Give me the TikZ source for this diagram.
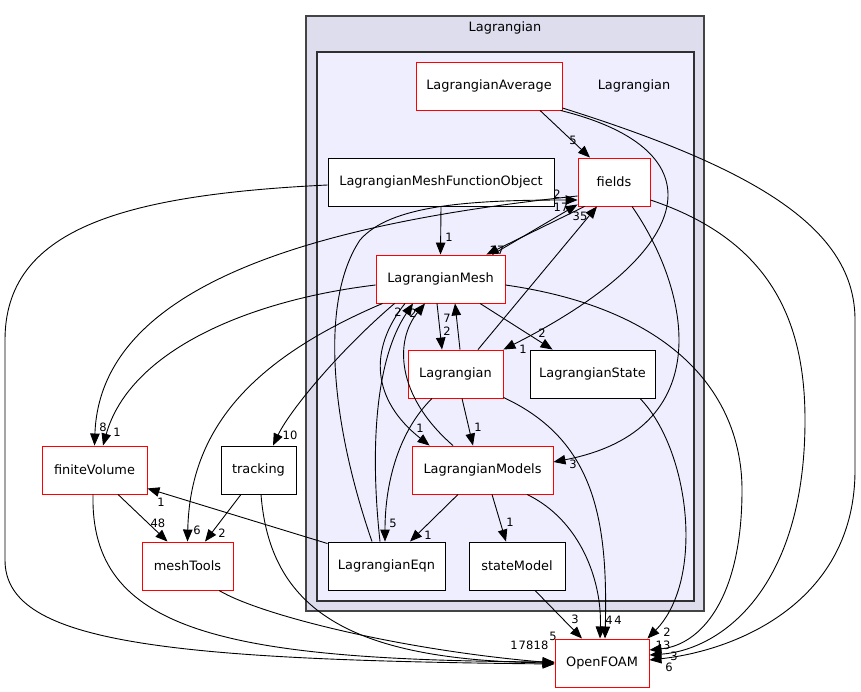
\documentclass[tikz,border=0pt]{standalone}
\usepackage{fontspec}
\setmainfont{DejaVu Sans}
\usetikzlibrary{arrows.meta,calc}
\definecolor{clusterout}{HTML}{DDDDEE}
\definecolor{clusterin}{HTML}{EEEEFF}
\definecolor{clusterline}{HTML}{444444}

\begin{document}
\begin{tikzpicture}[x=1pt,y=-1pt,
  font=\fontsize{12.9}{15}\selectfont,
  dirnode/.style={draw=red,fill=white,line width=0.9pt,minimum height=48pt,inner sep=0pt},
  dirplain/.style={dirnode,draw=black},
  dep/.style={draw=black,line width=0.9pt,-{Triangle[length=12pt,width=9.5pt]}},
  num/.style={font=\fontsize{11.5}{12}\selectfont,inner sep=0pt}]
  \useasboundingbox (0,0) rectangle (861,692);
  % clusters
  \filldraw[fill=clusterout,draw=clusterline,line width=1.6pt] (306,16) rectangle (704,611);
  \node at (505,28) {Lagrangian};
  \filldraw[fill=clusterin,draw=clusterline!70!black,line width=1.2pt] (317,52) rectangle (694,601);
  \node at (634,86) {Lagrangian};
  % directories
  \node[dirnode,minimum width=146pt] (avg) at (489,86) {LagrangianAverage};
  \node[dirnode,minimum width=72pt] (fields) at (614,182) {fields};
  \node[dirplain,minimum width=226pt] (mfo) at (441,182) {LagrangianMeshFunctionObject};
  \node[dirnode,minimum width=129pt] (mesh) at (440.5,279) {LagrangianMesh};
  \node[dirnode,minimum width=95pt] (lag) at (455.5,374) {Lagrangian};
  \node[dirplain,minimum width=125pt] (state) at (592.5,374) {LagrangianState};
  \node[dirnode,minimum width=141pt] (models) at (482.5,470) {LagrangianModels};
  \node[dirplain,minimum width=117pt] (eqn) at (386.5,566) {LagrangianEqn};
  \node[dirplain,minimum width=96pt] (statemodel) at (517,566) {stateModel};
  \node[dirplain,minimum width=75pt] (tracking) at (258.5,470) {tracking};
  \node[dirnode,minimum width=105pt] (fv) at (94.5,470) {finiteVolume};
  \node[dirnode,minimum width=91pt] (meshtools) at (187.5,566) {meshTools};
  \node[dirnode,minimum width=94pt] (openfoam) at (602,663) {OpenFOAM};
  % dependencies
  \draw[dep] ($(avg.south)+(51,0)$) -- ($(fields.north)+(-24,0)$) node[num] at (573,140) {5};
  \draw[dep] ($(avg.south east)+(-2,0)$) .. controls (720,150) and (700,250) .. (lag.north east) node[num] at (523,349) {1};
  \draw[dep] ($(avg.east)+(0,22)$) .. controls (760,170) and (855,230) .. (855,320) -- (855,470)
    .. controls (855,600) and (740,650) .. ($(openfoam.east)+(0,-3)$) node[num] at (669,667) {6};
  \draw[dep] ($(state.south)+(47.5,0)$) .. controls (690,450) and (705,580) .. ($(openfoam.north east)+(-2,0)$) node[num] at (667,632) {2};
  \draw[dep] ($(mesh.east)+(0,6)$) .. controls (680,310) and (742,400) .. (742,490)
    .. controls (742,600) and (700,645) .. ($(openfoam.east)+(0,-13)$) node[num] at (663,645) {13};
  \draw[dep] ($(fields.east)+(0,18)$) .. controls (770,240) and (805,320) .. (805,420)
    .. controls (805,590) and (720,650) .. ($(openfoam.east)+(0,-8)$) node[num] at (674,656) {3};
  \draw[dep] ($(fields.south)+(18,0)$) .. controls (690,290) and (720,430) .. ($(models.east)+(0,-8)$) node[num] at (573,464) {3};
  \draw[dep] ($(fields.west)+(0,14)$) .. controls (300,225) and (100,290) .. (fv.north) node[num] at (103,427) {8};
  \draw[dep] ($(mesh.west)+(0,6)$) .. controls (250,300) and (130,350) .. ($(fv.north)+(8.5,0)$) node[num] at (117,432) {1};
  \draw[dep] ($(eqn.north west)+(0,2)$) -- ($(fv.south east)+(0,-6)$) node[num] at (161,502) {1};
  \draw[dep] ($(fv.south)+(23.5,0)$) -- ($(meshtools.north)+(-20,0)$) node[num] at (158,523) {48};
  \draw[dep] ($(tracking.south)+(-17.5,0)$) -- ($(meshtools.north)+(17.5,0)$) node[num] at (222,533) {2};
  \draw[dep] ($(mesh.south west)+(7,0)$) .. controls (250,360) and (190,430) .. (meshtools.north) node[num] at (197,530) {6};
  \draw[dep] ($(mesh.south west)+(19,0)$) .. controls (340,350) and (290,410) .. ($(tracking.north)+(14.5,0)$) node[num] at (290,435) {10};
  \draw[dep] ($(tracking.south)+(2.5,0)$) .. controls (270,610) and (350,660) .. (openfoam.west) node[num] at (541,645) {18};
  \draw[dep] ($(fv.south)+(-1.5,0)$) .. controls (90,630) and (220,660) .. ($(openfoam.west)+(0,-1)$) node[num] at (526,645) {78};
  \draw[dep] ($(meshtools.south)+(31.5,0)$) .. controls (260,615) and (400,650) .. (openfoam.west) node[num] at (553,636) {5};
  \draw[dep] ($(mfo.west)+(0,3)$) .. controls (120,195) and (5,230) .. (5,340) -- (5,560)
    .. controls (5,640) and (150,660) .. ($(openfoam.west)+(0,1)$) node[num] at (514,645) {1};
  \draw[dep] (mfo.south) -- (mesh.north) node[num] at (449,237) {1};
  \draw[dep] ($(eqn.north)+(-14.5,0)$) .. controls (330,420) and (320,300) .. (360,240)
    .. controls (390,205) and (470,200) .. ($(fields.west)+(0,18)$) node[num] at (557,194) {2};
  \draw[dep] ($(mesh.north east)+(-13,0)$) -- ($(fields.south west)+(0,-2)$) node[num] at (561,207) {17};
  \draw[dep] ($(fields.south west)+(7,0)$) -- ($(mesh.north east)+(-19,0)$) node[num] at (497,250) {17};
  \draw[dep] ($(lag.north)+(22.5,0)$) -- ($(fields.south)+(-17,0)$) node[num] at (580,216) {35};
  \draw[dep] ($(mesh.south)+(-3.5,0)$) -- ($(lag.north)+(-13.5,0)$) node[num] at (447,331) {2};
  \draw[dep] ($(lag.north)+(4.5,0)$) -- ($(mesh.south)+(14.5,0)$) node[num] at (447,318) {7};
  \draw[dep] ($(mesh.south)+(39.5,0)$) -- ($(state.north west)+(23,0)$) node[num] at (542,333) {2};
  \draw[dep] ($(lag.south)+(6.5,0)$) -- ($(models.north)+(-9.5,0)$) node[num] at (478,427) {1};
  \draw[dep] ($(lag.south)+(-23.5,0)$) .. controls (400,430) and (385,480) .. ($(eqn.north)+(-1.5,0)$) node[num] at (393,523) {5};
  \draw[dep] ($(models.south)+(-24.5,0)$) -- ($(eqn.north)+(23.5,0)$) node[num] at (428,535) {1};
  \draw[dep] ($(models.south)+(9.5,0)$) -- ($(statemodel.north)+(-11,0)$) node[num] at (510,522) {1};
  \draw[dep] ($(statemodel.south)+(18,0)$) -- ($(openfoam.north)+(-20,0)$) node[num] at (575,619) {3};
  \draw[dep] ($(models.south)+(44.5,0)$) .. controls (580,520) and (602,580) .. ($(openfoam.north)+(-2,0)$) node[num] at (609,620) {4};
  \draw[dep] ($(lag.south east)+(0,-1)$) .. controls (595,440) and (608,520) .. ($(openfoam.north)+(3,0)$) node[num] at (618,620) {4};
  \draw[dep] ($(eqn.north)+(-6.5,0)$) .. controls (370,450) and (375,360) .. ($(mesh.south)+(-27.5,0)$) node[num] at (398,312) {2};
  \draw[dep] ($(models.north)+(-29.5,0)$) .. controls (395,395) and (395,340) .. ($(mesh.south)+(-15.5,0)$) node[num] at (413,313) {2};
  \draw[dep] ($(mesh.south)+(-35.5,0)$) .. controls (368,350) and (372,400) .. ($(models.north west)+(18,0)$) node[num] at (420,428) {1};
\end{tikzpicture}
\end{document}
